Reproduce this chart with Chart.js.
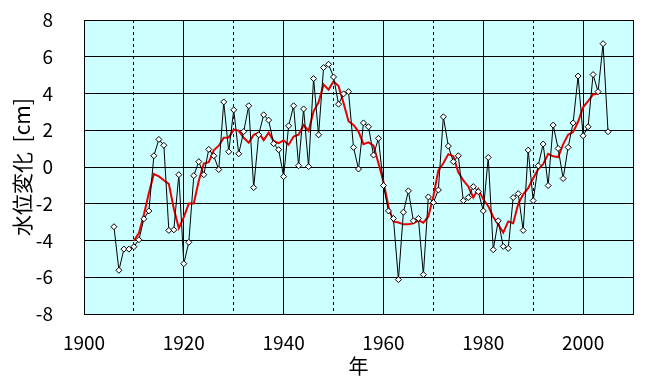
<!DOCTYPE html>
<html>
<head>
<meta charset="utf-8">
<script src="https://cdn.jsdelivr.net/npm/chart.js@4.4.1/dist/chart.umd.min.js"></script>
<style>
  html, body { margin: 0; padding: 0; background: #fff; }
  canvas { display: block; }
</style>
</head>
<body>
<canvas id="chart" width="664" height="386"></canvas>
<script>
// ========== DATA ==========
// annual water level change [cm], 1906-2005
const years = [
  1906, 1907, 1908, 1909,
  1910, 1911, 1912, 1913, 1914, 1915, 1916, 1917, 1918, 1919,
  1920, 1921, 1922, 1923, 1924, 1925, 1926, 1927, 1928, 1929,
  1930, 1931, 1932, 1933, 1934, 1935, 1936, 1937, 1938, 1939,
  1940, 1941, 1942, 1943, 1944, 1945, 1946, 1947, 1948, 1949,
  1950, 1951, 1952, 1953, 1954, 1955, 1956, 1957, 1958, 1959,
  1960, 1961, 1962, 1963, 1964, 1965, 1966, 1967, 1968, 1969,
  1970, 1971, 1972, 1973, 1974, 1975, 1976, 1977, 1978, 1979,
  1980, 1981, 1982, 1983, 1984, 1985, 1986, 1987, 1988, 1989,
  1990, 1991, 1992, 1993, 1994, 1995, 1996, 1997, 1998, 1999,
  2000, 2001, 2002, 2003, 2004, 2005
];
const annual = [
  -3.25, -5.62, -4.47, -4.47,
  -4.34, -3.96, -2.82, -2.39, 0.61, 1.50, 1.18, -3.45, -3.42, -0.42,
  -5.26, -4.10, -0.47, 0.29, -0.42, 0.96, 0.61, -0.14, 3.54, 0.83,
  3.11, 0.72, 1.93, 3.33, -1.12, 1.75, 2.84, 2.55, 1.27, 0.94,
  -0.52, 2.24, 3.33, 0.07, 3.16, 0.02, 4.81, 1.75, 5.41, 5.59,
  4.90, 3.42, 3.98, 4.10, 1.07, -0.11, 2.40, 2.19, 0.65, 1.56,
  -1.01, -2.39, -2.80, -6.13, -2.46, -1.30, -2.93, -2.80, -5.86, -1.63,
  -1.93, -1.25, 2.73, 1.14, 0.29, 0.61, -1.83, -1.66, -1.07, -1.34,
  -2.39, 0.52, -4.50, -2.93, -4.32, -4.43, -1.66, -1.45, -3.45, 0.92,
  -1.83, 0.07, 1.25, -1.01, 2.28, 1.01, -0.63, 1.07, 2.40, 4.95,
  1.70, 2.19, 5.03, 4.10, 6.71, 1.92
];

// smoothed curve (red), 1910-2003
const smoothYears = [
  1910, 1911, 1912, 1913, 1914, 1915, 1916, 1917, 1918, 1919,
  1920, 1921, 1922, 1923, 1924, 1925, 1926, 1927, 1928, 1929,
  1930, 1931, 1932, 1933, 1934, 1935, 1936, 1937, 1938, 1939,
  1940, 1941, 1942, 1943, 1944, 1945, 1946, 1947, 1948, 1949,
  1950, 1951, 1952, 1953, 1954, 1955, 1956, 1957, 1958, 1959,
  1960, 1961, 1962, 1963, 1964, 1965, 1966, 1967, 1968, 1969,
  1970, 1971, 1972, 1973, 1974, 1975, 1976, 1977, 1978, 1979,
  1980, 1981, 1982, 1983, 1984, 1985, 1986, 1987, 1988, 1989,
  1990, 1991, 1992, 1993, 1994, 1995, 1996, 1997, 1998, 1999,
  2000, 2001, 2002, 2003
];
const smooth = [
  -4.01, -3.60, -2.58, -1.41, -0.38, -0.51, -0.72, -0.92, -2.27, -3.33,
  -2.73, -1.99, -1.99, -0.75, 0.19, 0.26, 0.91, 1.16, 1.59, 1.61,
  2.03, 1.98, 1.59, 1.32, 1.75, 1.87, 1.46, 1.87, 1.42, 1.30,
  1.45, 1.21, 1.66, 1.76, 2.28, 1.96, 3.03, 3.52, 4.49, 4.21,
  4.66, 4.40, 3.49, 2.49, 2.29, 1.93, 1.24, 1.34, 1.16, 0.20,
  -0.80, -2.15, -2.96, -3.02, -3.12, -3.12, -3.07, -2.90, -3.03, -2.69,
  -1.59, -0.19, 0.20, 0.70, 0.59, -0.29, -0.73, -1.06, -1.66, -1.19,
  -1.76, -2.13, -2.72, -3.13, -3.57, -2.96, -3.06, -2.01, -1.49, -1.15,
  -0.61, -0.12, 0.15, 0.72, 0.58, 0.54, 1.23, 1.76, 1.90, 2.46,
  3.25, 3.59, 3.95, 3.99
];

const xLabels = [1900, 1920, 1940, 1960, 1980, 2000];
const yTicks = [-8, -6, -4, -2, 0, 2, 4, 6, 8];

// ========== CHART ==========
const FONT = '"Noto Sans CJK JP", "Noto Sans", sans-serif';

const plotBackground = {
  id: 'plotBackground',
  beforeDraw(chart) {
    const { ctx, chartArea: a } = chart;
    ctx.save();
    ctx.fillStyle = '#ccffff';
    ctx.fillRect(a.left, a.top, a.right - a.left, a.bottom - a.top);
    ctx.restore();
  }
};

new Chart(document.getElementById('chart').getContext('2d'), {
  type: 'line',
  data: {
    datasets: [
      {
        data: years.map((y, i) => ({ x: y, y: annual[i] })),
        borderColor: '#000',
        borderWidth: 1,
        pointStyle: 'rectRot',
        pointRadius: 3,
        pointBackgroundColor: '#fff',
        pointBorderColor: '#000',
        pointBorderWidth: 1,
        tension: 0
      },
      {
        data: smoothYears.map((y, i) => ({ x: y, y: smooth[i] })),
        borderColor: 'rgb(232,0,0)',
        borderWidth: 2,
        pointRadius: 0,
        tension: 0
      }
    ]
  },
  options: {
    responsive: false,
    animation: false,
    layout: { padding: { top: 20, right: 31, left: 0, bottom: 0 } },
    plugins: { legend: { display: false }, tooltip: { enabled: false } },
    scales: {
      x: {
        type: 'linear',
        min: 1900,
        max: 2010,
        afterFit: s => { s.height = 72; s.paddingLeft = 0; s.paddingRight = 0; },
        ticks: {
          stepSize: 10,
          autoSkip: false,
          maxRotation: 0,
          padding: 17,
          color: '#000',
          font: { family: FONT, size: 19 },
          callback: v => xLabels.includes(v) ? String(v) : ''
        },
        grid: {
          color: '#000',
          lineWidth: 1,
          drawTicks: false
        },
        border: {
          color: '#000',
          dash: ctx => (ctx.tick && ctx.tick.value % 20 === 10 && ctx.tick.value < 2010) ? [3, 3] : []
        },
        title: {
          display: true,
          text: '年',
          color: '#000',
          font: { family: FONT, size: 20 },
          padding: { top: 0, bottom: 8 }
        }
      },
      y: {
        min: -8,
        max: 8,
        afterFit: s => { s.width = 84; s.paddingTop = 0; s.paddingBottom = 0; },
        afterBuildTicks: s => { s.ticks = yTicks.map(v => ({ value: v })); },
        ticks: {
          padding: 31,
          color: '#000',
          font: { family: FONT, size: 19 }
        },
        grid: { color: '#000', lineWidth: 1, drawTicks: false },
        border: { color: '#000' },
        title: {
          display: true,
          text: '水位変化  [cm]',
          color: '#000',
          font: { family: FONT, size: 21 },
          padding: { top: 9, bottom: 0 }
        }
      }
    }
  },
  plugins: [plotBackground]
});
</script>
</body>
</html>
